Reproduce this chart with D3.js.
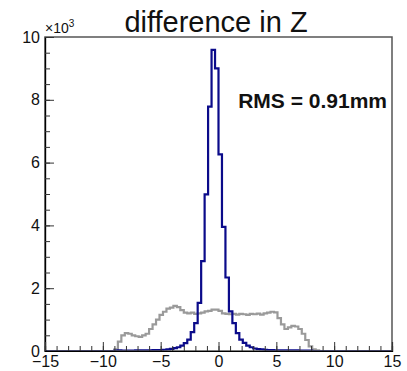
<!DOCTYPE html>
<html>
<head>
<meta charset="utf-8">
<script src="https://cdn.jsdelivr.net/npm/d3@7"></script>
<style>
  body { margin: 0; background: #fff; }
  svg { display: block; font-family: "Liberation Sans", Arial, sans-serif; }
</style>
</head>
<body>
<svg id="chart" width="407" height="371"></svg>
<script>
// histogram binning: 100 bins of 0.3 from -15 to 15
const binLow = -15;
const binWidth = 0.3;

// counts per bin, in units of 10^3
const grayCounts = [
  0, 0, 0, 0, 0, 0, 0, 0, 0, 0,
  0, 0, 0, 0, 0, 0, 0, 0, 0, 0,
  0.05, 0.3, 0.5, 0.57, 0.55, 0.5, 0.47, 0.45, 0.5, 0.55,
  0.7, 0.85, 1.0, 1.15, 1.25, 1.35, 1.38, 1.44, 1.4, 1.3,
  1.22, 1.2, 1.22, 1.18, 1.2, 1.22, 1.26, 1.28, 1.32, 1.32,
  1.28, 1.2, 1.18, 1.17, 1.18, 1.16, 1.18, 1.17, 1.15, 1.18,
  1.17, 1.19, 1.16, 1.2, 1.22, 1.25, 1.23, 1.05, 0.85, 0.7,
  0.75, 0.8, 0.78, 0.7, 0.55, 0.35, 0.15, 0.05, 0.02, 0,
  0, 0, 0, 0, 0, 0, 0, 0, 0, 0,
  0, 0, 0, 0, 0, 0, 0, 0, 0, 0
];
const blueCounts = [
  0, 0, 0, 0, 0, 0, 0, 0, 0, 0,
  0, 0, 0, 0, 0, 0, 0, 0, 0, 0,
  0.01, 0.02, 0.01, 0.01, 0.01, 0.01, 0.02, 0.02, 0.02, 0.02,
  0.02, 0.03, 0.03, 0.03, 0.04, 0.05, 0.07, 0.09, 0.12, 0.17,
  0.25, 0.36, 0.6, 0.89, 1.53, 2.86, 4.99, 7.78, 9.59, 9.0,
  6.26, 3.95, 2.34, 1.26, 0.89, 0.57, 0.36, 0.26, 0.17, 0.12,
  0.08, 0.06, 0.05, 0.04, 0.03, 0.03, 0.02, 0.02, 0.02, 0.02,
  0.02, 0.02, 0.02, 0.01, 0.01, 0.01, 0.01, 0, 0, 0,
  0, 0, 0, 0, 0, 0, 0, 0, 0, 0,
  0, 0, 0, 0, 0, 0, 0, 0, 0, 0
];

const xTicks = [-15, -10, -5, 0, 5, 10, 15];
const xMinorTicks = d3.range(-15, 15.01, 1);
const yTicks = [0, 2, 4, 6, 8, 10];
const yMinorTicks = d3.range(0, 10.01, 0.5);

const titleText = "difference in Z";
const rmsText = "RMS = 0.91mm";

// frame
const margin = { top: 37, right: 15, bottom: 20, left: 45 };
const width = 407 - margin.left - margin.right;
const height = 371 - margin.top - margin.bottom;

const svg = d3.select("#chart");
const g = svg.append("g").attr("transform", `translate(${margin.left},${margin.top})`);

const x = d3.scaleLinear().domain([-15, 15]).range([0, width]);
const y = d3.scaleLinear().domain([0, 10]).range([height, 0]);

// turn bin counts into a stepped outline
function stepPoints(counts) {
  const pts = [];
  counts.forEach((c, i) => {
    const lo = binLow + i * binWidth;
    pts.push([lo, c], [lo + binWidth, c]);
  });
  return pts;
}

const line = d3.line().x(d => x(d[0])).y(d => y(d[1]));

g.append("path")
  .attr("d", line(stepPoints(grayCounts)))
  .attr("fill", "none")
  .attr("stroke", "#9a9a9a")
  .attr("stroke-width", 2.2);

g.append("path")
  .attr("d", line(stepPoints(blueCounts)))
  .attr("fill", "none")
  .attr("stroke", "#0b0b8a")
  .attr("stroke-width", 2.2);

// frame box
g.append("rect")
  .attr("width", width)
  .attr("height", height)
  .attr("fill", "none")
  .attr("stroke", "#555")
  .attr("stroke-width", 1.5);

// axes with inward ticks
const yAxis = g.append("g")
  .call(d3.axisLeft(y).tickValues(yTicks).tickSize(-9).tickPadding(5).tickFormat(d3.format("d")));
const yMinor = g.append("g")
  .call(d3.axisLeft(y).tickValues(yMinorTicks).tickSize(-5).tickFormat(""));
const xAxis = g.append("g")
  .attr("transform", `translate(0,${height})`)
  .call(d3.axisBottom(x).tickValues(xTicks).tickSize(-9).tickPadding(5)
    .tickFormat(d => d < 0 ? "\u2212" + Math.abs(d) : d));
const xMinor = g.append("g")
  .attr("transform", `translate(0,${height})`)
  .call(d3.axisBottom(x).tickValues(xMinorTicks).tickSize(-5).tickFormat(""));

[yAxis, yMinor, xAxis, xMinor].forEach(a => {
  a.select(".domain").attr("stroke", "#000").attr("stroke-width", 1.2);
  a.selectAll(".tick line").attr("stroke", "#333").attr("stroke-width", 1);
  a.selectAll("text")
    .attr("font-family", "'Liberation Sans', Arial, sans-serif")
    .attr("font-size", 16)
    .attr("fill", "#111");
});

// exponent label above the y axis
const expo = svg.append("text")
  .attr("x", margin.left)
  .attr("y", 33)
  .attr("font-size", 14)
  .attr("fill", "#111");
expo.append("tspan").text("\u00d710");
expo.append("tspan").attr("dy", -6).attr("font-size", 10).text("3");

// title
svg.append("text")
  .attr("x", 216)
  .attr("y", 32)
  .attr("text-anchor", "middle")
  .attr("font-size", 29)
  .attr("fill", "#111")
  .text(titleText);

// RMS annotation
svg.append("text")
  .attr("x", 387)
  .attr("y", 108)
  .attr("text-anchor", "end")
  .attr("font-size", 21)
  .attr("font-weight", "bold")
  .attr("fill", "#111")
  .text(rmsText);
</script>
</body>
</html>
